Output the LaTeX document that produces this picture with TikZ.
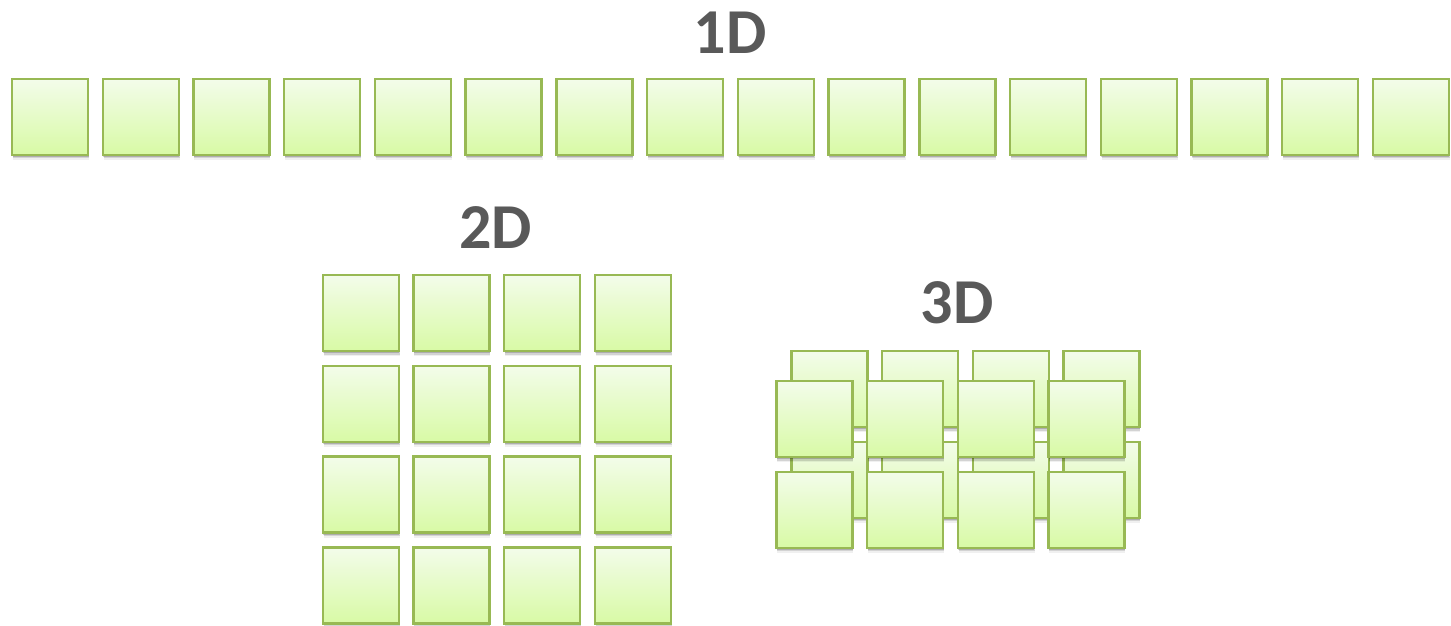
\documentclass[tikz,border=0pt]{standalone}
\usepackage{fontspec}
\setmainfont{Carlito}
\usetikzlibrary{shadows}
\definecolor{boxline}{RGB}{152,185,84}
\definecolor{boxtop}{RGB}{243,252,234}
\definecolor{boxbot}{RGB}{216,250,165}
\definecolor{labelgray}{RGB}{89,89,89}
\tikzset{
  cell/.style={rectangle, minimum size=76pt, inner sep=0pt, draw=boxline, line width=2.4pt,
    top color=boxtop, bottom color=boxbot,
    drop shadow={shadow xshift=0.5pt, shadow yshift=-2pt, opacity=0.18, fill=black},
    drop shadow={shadow xshift=0.8pt, shadow yshift=-3.5pt, opacity=0.12, fill=black},
    drop shadow={shadow xshift=1pt, shadow yshift=-5pt, opacity=0.06, fill=black}},
  dimlabel/.style={anchor=base, inner sep=0pt, text=labelgray, font=\fontsize{64}{70}\selectfont\bfseries}
}
\begin{document}
\begin{tikzpicture}[x=1pt,y=1pt]
\useasboundingbox (0,0) rectangle (1451,626);
% labels
\node[dimlabel] (l1) at (730,572.7) {1D};
\node[dimlabel] (l2) at (495.5,377) {2D};
\node[dimlabel] (l3) at (957,302) {3D};
% 1D row
\foreach \i in {0,...,15}{
  \node[cell] (a\i) at ({50+90.73*\i},509) {};
}
% 2D grid
\foreach \r in {0,...,3}{
  \foreach \c in {0,...,3}{
    \node[cell] (b\r\c) at ({360.7+90.7*\c},{312.7-90.7*\r}) {};
  }
}
% 3D back layer
\foreach \r in {0,1}{
  \foreach \c in {0,...,3}{
    \node[cell] (k\r\c) at ({829.3+90.7*\c},{236.7-90.7*\r}) {};
  }
}
% 3D front layer
\foreach \r in {0,1}{
  \foreach \c in {0,...,3}{
    \node[cell] (f\r\c) at ({814.3+90.7*\c},{206.7-90.7*\r}) {};
  }
}
\end{tikzpicture}
\end{document}
